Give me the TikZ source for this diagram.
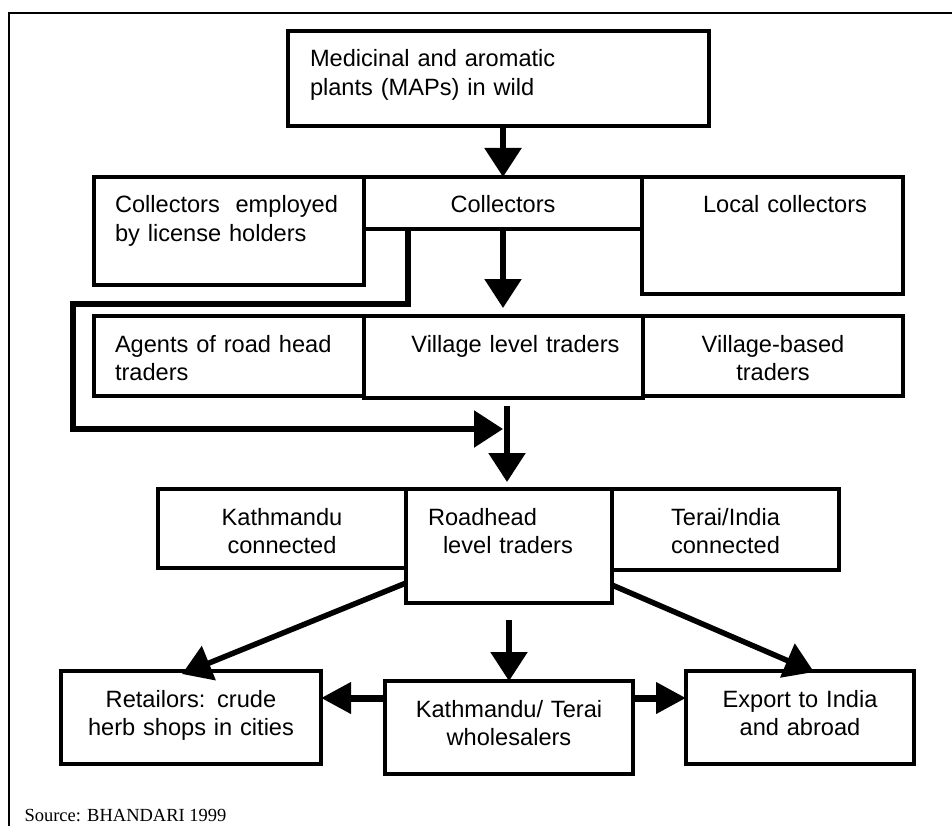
\documentclass[tikz,border=0pt]{standalone}
\usepackage{fontspec}
\setmainfont{Liberation Sans}
\newfontfamily\sourcefont{Liberation Serif}
\usetikzlibrary{arrows.meta,calc}

\begin{document}
\begin{tikzpicture}[
      x=1pt, y=-1pt,
      font=\fontsize{23.6}{28.8}\selectfont,
      box/.style={draw, line width=3.2pt, anchor=north west,
        inner sep=0pt, outer sep=0pt, align=center, text height=36pt},
      arrow/.style={-{Triangle[length=29pt,width=36pt]}, line width=5.5pt},
      side/.style={-{Triangle[length=30pt,width=30pt]}, line width=7pt}
    ]
    \useasboundingbox (0,0) rectangle (952,826);
    \draw[line width=2.5pt] (9,826) -- (9,13) -- (952,13);

    \node[box, align=left, inner xsep=22pt, text width=377pt, text depth=59pt] (plants) at (288,31)
      {Medicinal and aromatic\\plants (MAPs) in wild};

    \node[box, align=left, inner xsep=21pt, text width=228pt, text depth=72pt] (licensed) at (94,177)
      {Collectors\ \ employed\\by license holders};
    \node[box, text width=278pt, text depth=16pt] (coll) at (364,177) {Collectors};
    \node[box, text width=261pt, text depth=81pt] (local) at (642,177) {\hspace*{25pt}Local collectors};

    \node[box, align=left, inner xsep=21pt, text width=228pt, text depth=44pt] (agents) at (94,316)
      {Agents of road head\\traders};
    \node[box, text width=279pt, text depth=46pt] (vil) at (364,316) {\hspace*{24pt}Village level traders};
    \node[box, text width=260pt, text depth=44pt] (vbased) at (643,316) {Village-based\\traders};

    \node[box, text width=248pt, text depth=43pt] (kath) at (158,489) {Kathmandu\\connected};
    \node[box, align=left, inner xsep=22pt, text width=162pt, text depth=78pt] (road) at (406,489)
      {Roadhead\\\hspace*{15pt}level traders};
    \node[box, text width=227pt, text depth=45pt] (terai) at (612,489) {Terai/India\\connected};

    \node[box, text width=260pt, text depth=57pt] (retail) at (61,671) {Retailors: crude\\herb shops in cities};
    \node[box, text width=248pt, text depth=57pt] (whole) at (385,681) {Kathmandu/ Terai\\wholesalers};
    \node[box, text width=228pt, text depth=57pt] (export) at (686,671) {Export to India\\and abroad};

    \node[anchor=base west, font=\sourcefont\fontsize{18.5}{22}\selectfont] (source) at (21,821)
      {Source: BHANDARI 1999};

    \coordinate (merge) at (507,429);
    \coordinate (wl) at ([yshift=-17pt]whole.north west);
    \coordinate (wr) at ([yshift=-17pt]whole.north east);

    \draw[arrow] (plants.south -| coll.north) -- (coll.north);
    \draw[arrow, shorten >=8pt] (coll.south) -- (coll.south |- vil.north);
    \draw[arrow, shorten >=4pt] ([xshift=44pt]coll.south west) -- ++(0,75) -- ++(-335,0) |- (merge);
    \draw[arrow, shorten <=8pt, shorten >=7pt] (vil.south -| merge) -- (road.north -| merge);
    \draw[arrow] ([yshift=20pt]road.south west) -- ([xshift=121pt,yshift=-3pt]retail.north west);
    \draw[arrow] ([yshift=18pt]road.south east) -- ([xshift=128pt,yshift=-1pt]export.north west);
    \draw[arrow, shorten <=17pt] (road.south) -- (whole.north);
    \draw[side] (wl) -- (wl -| retail.east);
    \draw[side] (wr) -- (wr -| export.west);
  \end{tikzpicture}
\end{document}
